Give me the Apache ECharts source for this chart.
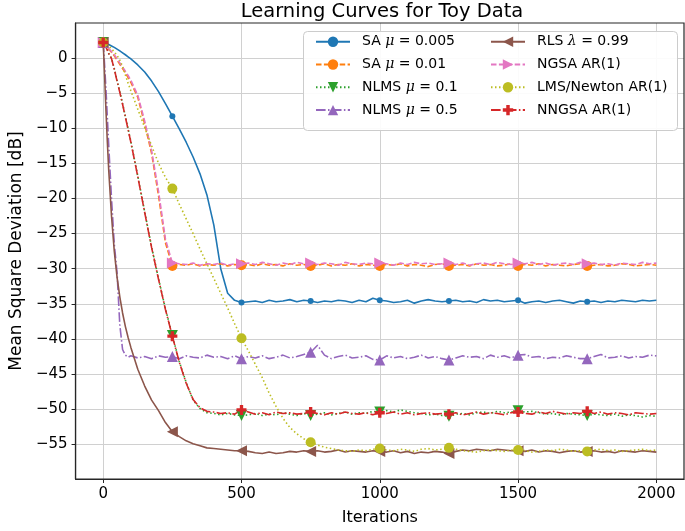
<!DOCTYPE html>
<html><head><meta charset="utf-8">
<script src="https://cdn.jsdelivr.net/npm/echarts@6/dist/echarts.min.js"></script>
<style>html,body{margin:0;padding:0;background:#fff}#c{width:685px;height:531px}</style>
</head><body><div id="c"></div>
<script>
// ---- data ----
const iters = [0,5,10,15,20,30,40,50,60,70,80,90,100,
 125,150,175,200,225,250,275,300,325,350,375,400,425,450,475,500,
 525,550,575,600,625,650,675,700,725,750,775,800,825,850,875,900,925,950,975,1000,
 1025,1050,1075,1100,1125,1150,1175,1200,1225,1250,1275,1300,1325,1350,1375,1400,1425,1450,1475,1500,
 1525,1550,1575,1600,1625,1650,1675,1700,1725,1750,1775,1800,1825,1850,1875,1900,1925,1950,1975,2000];

const saSlow = [2.2,2.12,2.05,1.97,1.9,1.7,1.5,1.25,1.0,0.73,0.45,0.15,-0.15,
 -1.0,-2.0,-3.3,-4.8,-6.5,-8.3,-10.1,-12.0,-14.1,-16.5,-19.5,-23.8,-30.0,-33.5,-34.5,-34.8,
 -34.7,-34.6,-34.8,-34.5,-34.7,-34.6,-34.4,-34.7,-34.5,-34.6,
 -34.8,-34.6,-34.7,-34.5,-34.6,-34.8,-34.5,-34.7,-34.2,-34.5,
 -34.6,-34.8,-34.7,-34.5,-34.9,-34.6,-34.4,-34.6,-34.7,-34.6,
 -34.5,-34.7,-34.6,-34.8,-34.4,-34.6,-34.5,-34.7,-34.6,-34.5,
 -34.9,-34.7,-34.6,-34.8,-34.6,-34.5,-34.7,-34.9,-34.6,-34.7,
 -34.6,-34.8,-34.6,-34.7,-34.5,-34.6,-34.7,-34.5,-34.6,-34.5];

const saFast = [2.2,2.0,1.75,1.5,1.25,0.8,0.3,-0.3,-0.9,-1.5,-2.1,-2.8,-3.5,
 -5.6,-9.4,-13.6,-19.6,-26.3,-29.6,-29.4,-29.5,-29.3,-29.6,-29.4,-29.5,-29.3,-29.6,-29.4,-29.5,
 -29.4,-29.6,-29.3,-29.5,-29.4,-29.6,-29.3,-29.5,-29.4,-29.6,
 -29.5,-29.3,-29.6,-29.4,-29.5,-29.3,-29.6,-29.4,-29.5,-29.6,
 -29.4,-29.5,-29.3,-29.6,-29.4,-29.5,-29.7,-29.4,-29.3,-29.6,
 -29.5,-29.4,-29.6,-29.3,-29.5,-29.4,-29.6,-29.5,-29.3,-29.6,
 -29.4,-29.5,-29.3,-29.6,-29.4,-29.5,-29.6,-29.4,-29.3,-29.6,
 -29.5,-29.4,-29.6,-29.5,-29.3,-29.4,-29.6,-29.5,-29.4,-29.5];

const nlmsSlow = [2.2,1.95,1.55,1.15,0.65,-0.05,-1.5,-3.2,-4.8,-6.5,-8.3,-10.1,-11.9,
 -16.8,-21.9,-26.9,-31.4,-35.7,-39.5,-43.2,-46.2,-48.7,-49.9,-50.5,-50.6,-50.8,-50.6,-50.8,-50.9,
 -50.8,-50.6,-50.9,-50.7,-50.8,-50.5,-50.7,-50.9,-50.6,-50.9,
 -50.7,-50.5,-50.8,-50.6,-50.4,-50.7,-50.5,-50.6,-50.3,-50.4,
 -50.2,-50.4,-50.1,-50.3,-50.5,-50.6,-50.8,-50.7,-50.9,-51.0,
 -50.7,-50.6,-50.8,-50.5,-50.4,-50.6,-50.3,-50.5,-50.4,-50.2,
 -50.4,-50.3,-50.5,-50.7,-50.6,-50.8,-50.6,-50.7,-50.8,-50.9,
 -50.7,-50.8,-50.9,-50.7,-51.0,-50.8,-50.9,-51.1,-50.9,-51.0];

const nlmsFast = [2.2,-1.0,-4.5,-8.5,-12.5,-20.0,-26.5,-30.5,-38.0,-41.5,-42.3,-42.6,-42.4,
 -42.7,-42.5,-42.8,-42.4,-42.6,-42.5,-42.8,-42.4,-42.6,-42.7,-42.3,-42.6,-42.5,-42.8,-42.4,-42.8,
 -42.5,-42.7,-42.4,-42.8,-42.6,-42.3,-42.7,-42.5,-42.2,-41.9,
 -40.9,-42.3,-42.8,-42.5,-42.3,-42.7,-42.6,-42.4,-42.9,-43.0,
 -42.4,-42.7,-42.5,-42.8,-42.6,-42.3,-42.7,-42.5,-42.8,-43.0,
 -42.7,-42.4,-42.6,-42.5,-42.8,-42.3,-42.6,-42.4,-42.7,-42.3,
 -42.2,-42.6,-42.5,-42.8,-42.6,-42.7,-42.4,-42.6,-42.8,-42.8,
 -42.5,-42.2,-42.7,-42.6,-42.4,-42.7,-42.5,-42.6,-42.3,-42.4];

const rls = [2.2,-2.5,-7.5,-12.0,-16.0,-22.5,-27.5,-31.2,-34.0,-36.3,-38.2,-39.8,-41.2,
 -44.3,-46.7,-48.7,-50.2,-51.9,-53.2,-53.9,-54.5,-54.9,-55.2,-55.5,-55.6,-55.7,-55.8,-55.9,-55.9,
 -56.0,-56.2,-56.3,-56.1,-56.3,-56.2,-56.0,-56.1,-55.9,-56.0,
 -55.9,-56.1,-56.0,-55.8,-56.1,-55.9,-56.0,-56.1,-55.9,-56.0,
 -56.1,-55.9,-56.2,-56.0,-56.3,-56.1,-56.2,-56.0,-56.1,-56.3,
 -56.0,-55.8,-55.9,-55.7,-55.8,-55.9,-55.7,-55.8,-55.9,-55.9,
 -56.0,-55.8,-56.1,-55.9,-56.0,-56.2,-56.0,-55.9,-56.1,-56.0,
 -55.9,-56.1,-56.0,-56.2,-55.9,-56.0,-56.1,-55.9,-56.0,-56.1];

const ngsa = [2.2,2.05,1.8,1.6,1.35,0.9,0.45,-0.1,-0.7,-1.3,-1.9,-2.5,-3.2,
 -5.3,-9.0,-13.2,-19.0,-25.8,-29.2,-29.3,-29.4,-29.2,-29.5,-29.3,-29.4,-29.2,-29.5,-29.3,-29.3,
 -29.2,-29.4,-29.1,-29.3,-29.5,-29.2,-29.4,-29.1,-29.3,-29.2,
 -29.4,-29.2,-29.3,-29.5,-29.1,-29.3,-29.4,-29.2,-29.3,-29.2,
 -29.3,-29.5,-29.2,-29.4,-29.1,-29.3,-29.2,-29.4,-29.3,-29.2,
 -29.4,-29.2,-29.5,-29.3,-29.2,-29.4,-29.1,-29.3,-29.4,-29.2,
 -29.3,-29.1,-29.4,-29.2,-29.5,-29.3,-29.2,-29.4,-29.1,-29.3,
 -29.2,-29.4,-29.3,-29.5,-29.2,-29.3,-29.4,-29.1,-29.3,-29.2];

const lmsNewton = [2.2,2.1,2.0,1.85,1.7,1.3,0.85,0.35,-0.3,-1.2,-2.4,-3.6,-4.7,
 -7.3,-9.9,-12.5,-15.0,-17.0,-18.6,-20.8,-22.9,-25.0,-27.2,-29.3,-31.4,-33.5,-35.6,-37.8,-39.9,
 -41.7,-43.6,-45.5,-47.7,-49.6,-51.3,-52.6,-53.5,-54.2,-54.7,
 -55.1,-55.4,-55.6,-55.8,-55.9,-56.0,-55.8,-55.9,-55.7,-55.6,
 -55.8,-55.9,-55.7,-55.8,-56.0,-55.7,-55.6,-55.8,-55.7,-55.5,
 -55.7,-55.9,-56.0,-56.1,-55.9,-55.8,-55.9,-56.0,-55.8,-55.8,
 -55.9,-56.1,-56.0,-55.8,-55.9,-55.7,-55.8,-56.0,-55.9,-56.0,
 -55.8,-55.7,-55.9,-55.8,-56.0,-55.9,-55.8,-55.7,-55.9,-55.8];

const nngsa = [2.2,1.9,1.5,1.1,0.6,-0.1,-1.6,-3.3,-4.9,-6.6,-8.4,-10.2,-12.0,
 -16.9,-22.0,-27.0,-31.5,-35.8,-39.6,-43.3,-46.3,-48.6,-49.8,-50.3,-50.4,-50.6,-50.5,-50.7,-50.1,
 -50.4,-50.7,-50.5,-50.8,-50.4,-50.6,-50.5,-50.7,-50.6,-50.4,
 -50.6,-50.8,-50.5,-50.7,-50.4,-50.6,-50.7,-50.5,-50.8,-50.5,
 -50.6,-50.4,-50.7,-50.5,-50.8,-50.6,-50.5,-50.7,-50.6,-50.7,
 -50.5,-50.8,-50.6,-50.4,-50.7,-50.5,-50.6,-50.8,-50.5,-50.4,
 -50.6,-50.7,-50.4,-50.6,-50.3,-50.5,-50.7,-50.5,-50.6,-50.3,
 -50.6,-50.4,-50.7,-50.5,-50.6,-50.8,-50.5,-50.6,-50.7,-50.6];

const markerIters = [0,250,500,750,1000,1250,1500,1750];
const xTicks = [0,500,1000,1500,2000];
const yTicks = [-55,-50,-45,-40,-35,-30,-25,-20,-15,-10,-5,0];
const seriesNames = ['SA μ = 0.005','SA μ = 0.01','NLMS μ = 0.1','NLMS μ = 0.5',
 'RLS λ = 0.99','NGSA AR(1)','LMS/Newton AR(1)','NNGSA AR(1)'];

// ---- chart ----
const FONT = 'DejaVu Sans';
const X_MIN = -100, X_MAX = 2100, Y_MIN = -59.93, Y_MAX = 4.97;
const PLUS = 'path://M-1,-3L1,-3L1,-1L3,-1L3,1L1,1L1,3L-1,3L-1,1L-3,1L-3,-1L-1,-1Z';
const DASH = [5.5,2.4], DOT = [1.5,2.5], DASHDOT = [9.6,2.4,1.5,2.4];
const styles = [
 {color:'#1f77b4', dash:'solid', symbol:'circle', size:6, rot:0, vals:saSlow},
 {color:'#ff7f0e', dash:DASH, symbol:'circle', size:10, rot:0, vals:saFast},
 {color:'#2ca02c', dash:DOT, symbol:'triangle', size:11, rot:180, vals:nlmsSlow},
 {color:'#9467bd', dash:DASHDOT, symbol:'triangle', size:11, rot:0, vals:nlmsFast},
 {color:'#8c564b', dash:'solid', symbol:'triangle', size:11, rot:90, vals:rls},
 {color:'#e377c2', dash:DASH, symbol:'triangle', size:11, rot:-90, vals:ngsa},
 {color:'#bcbd22', dash:DOT, symbol:'circle', size:10, rot:0, vals:lmsNewton},
 {color:'#d62728', dash:DASHDOT, symbol:PLUS, size:10, rot:0, vals:nngsa}
];
function minus(v){ return v < 0 ? '\u2212' + Math.abs(v) : String(v); }
function buildData(vals){
  return iters.map((x,i) => markerIters.indexOf(x) >= 0 ? {value:[x, vals[i]]} : {value:[x, vals[i]], symbol:'none'});
}
const series = styles.map((s,k) => ({
  type:'line', name:seriesNames[k], data:buildData(s.vals),
  showSymbol:true, showAllSymbol:true, symbol:s.symbol, symbolSize:s.size, symbolRotate:s.rot,
  lineStyle:{color:s.color, width:1.6, type:s.dash},
  itemStyle:{color:s.color, borderWidth:0},
  emphasis:{disabled:true}, animation:false
}));
const legendText = {fontFamily:FONT, fontSize:14, color:'#000', lineHeight:16, padding:[0,0,0,7],
  rich:{m:{fontFamily:'DejaVu Serif', fontStyle:'italic', fontSize:14, color:'#000'}}};
const legendFmt = n => n.replace('μ','{m|μ}').replace('λ','{m|λ}');
const legendBase = {orient:'vertical', itemWidth:34, itemHeight:13, itemGap:6.8, padding:0,
  top:33.7, textStyle:legendText, formatter:legendFmt, selectedMode:false, z:60};

const option = {
  animation:false,
  backgroundColor:'#fff',
  title:{text:'Learning Curves for Toy Data', left:377, top:-3, textAlign:'center',
    textStyle:{fontFamily:FONT, fontSize:19.5, fontWeight:'normal', color:'#000'}},
  grid:{left:70, right:1, top:23, bottom:43, containLabel:false},
  legend:[
    Object.assign({}, legendBase, {left:315, data:seriesNames.slice(0,4)}),
    Object.assign({}, legendBase, {left:490, data:seriesNames.slice(4)})
  ],
  xAxis:{type:'value', min:X_MIN, max:X_MAX, minInterval:500, maxInterval:500,
    name:'Iterations', nameLocation:'middle', nameGap:31,
    nameTextStyle:{fontFamily:FONT, fontSize:16, color:'#000'},
    axisLine:{show:true, onZero:false, lineStyle:{color:'#262626', width:1.2}},
    splitLine:{show:true, lineStyle:{color:'#d0d0d0', width:1}},
    axisTick:{show:true, length:4, lineStyle:{color:'#262626'}, customValues:xTicks},
    axisLabel:{customValues:xTicks, fontFamily:FONT, fontSize:15, color:'#000', margin:8, formatter:minus}
  },
  yAxis:{type:'value', min:Y_MIN, max:Y_MAX, minInterval:5, maxInterval:5,
    name:'Mean Square Deviation [dB]', nameLocation:'middle', nameGap:49,
    nameTextStyle:{fontFamily:FONT, fontSize:17, color:'#000'},
    axisLine:{show:true, onZero:false, lineStyle:{color:'#262626', width:1.2}},
    splitLine:{show:true, lineStyle:{color:'#d0d0d0', width:1}},
    axisTick:{show:true, length:4, lineStyle:{color:'#262626'}, customValues:yTicks},
    axisLabel:{customValues:yTicks, fontFamily:FONT, fontSize:15, color:'#000', margin:8, formatter:minus}
  },
  graphic:[{type:'rect', id:'legendBox', left:303, top:31, z:50,
    shape:{width:374, height:99, r:4}, style:{fill:'rgba(255,255,255,0.9)', stroke:'#cccccc', lineWidth:1}}],
  series:series
};
const chart = echarts.init(document.getElementById('c'), null, {renderer:'canvas'});
chart.setOption(option);
const p0 = chart.convertToPixel({gridIndex:0}, [X_MIN, Y_MAX]);
const p1 = chart.convertToPixel({gridIndex:0}, [X_MAX, Y_MIN]);
chart.setOption({graphic:[{id:'legendBox'},{type:'rect', id:'frame', z:100, silent:true,
  shape:{x:p0[0], y:p0[1], width:p1[0]-p0[0], height:p1[1]-p0[1]},
  style:{fill:null, stroke:'#262626', lineWidth:1.2}}]});
</script></body></html>
